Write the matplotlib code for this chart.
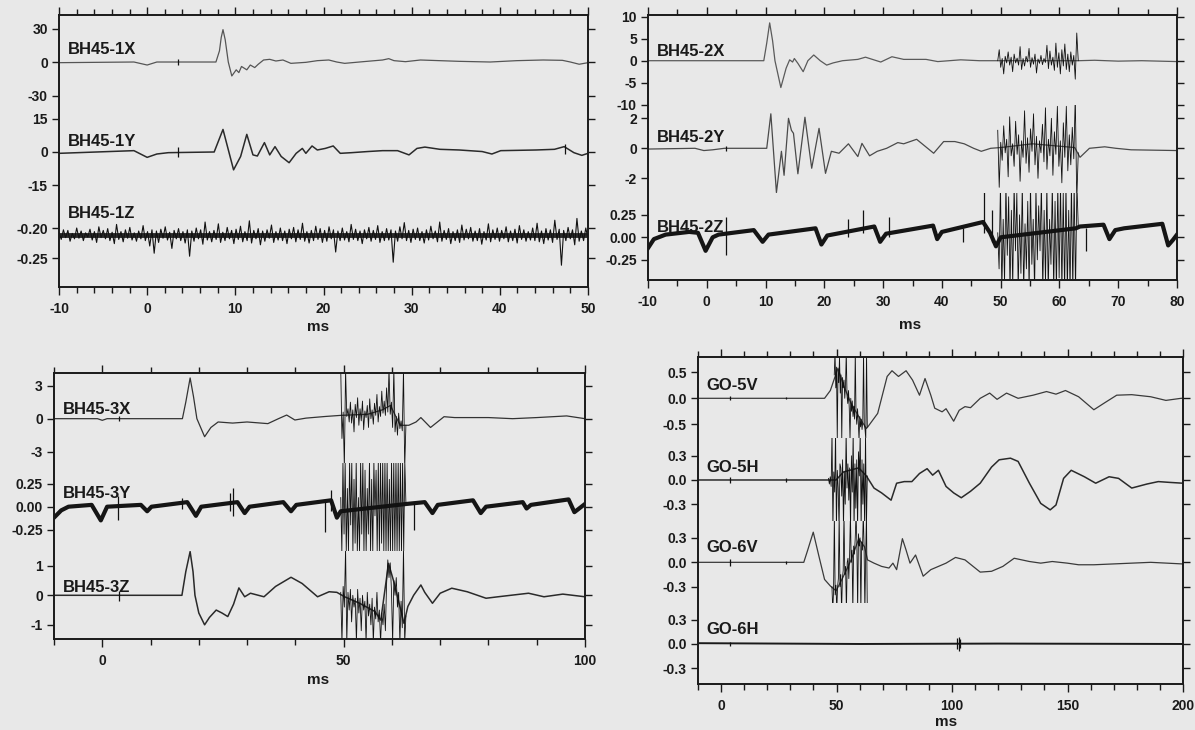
import numpy as np
import matplotlib.pyplot as plt

plt.rcParams['font.family'] = ['Liberation Sans', 'DejaVu Sans']
plt.rcParams['font.weight'] = 'bold'
plt.rcParams['axes.unicode_minus'] = False

W, H = 1195, 730
BG = '#e8e8e8'
INK = '#1a1a1a'

# ---------------- BH45-1 (x, y, z) ----------------
t_1x = [-10, -1.5, 0.0, 1.1, 7.8, 8.2, 8.4, 8.6, 8.85, 9.2, 9.6, 10.1, 10.4, 10.7, 11.3, 11.7, 12.2, 12.6,
        13.2, 13.9, 14.6, 15.4, 16.3, 18.0, 19.3, 20.6, 21.5, 22.4, 24.5, 26.7, 27.4, 28.0, 29.3, 31.0,
        35.4, 38.9, 41.9, 44.9, 47.1, 48.0, 49.0, 50.0]
v_1x = [-0.6, 0, -2.7, 0, 0, 10, 22, 29, 20, 0, -12.5, -7, -9.5, -4, -7, -2.7, -5, -2,
        1.8, 2.4, 0.9, 1.8, -1.2, -0.3, 1.2, 1.8, 0, -1.2, 0.3, 1.8, 3, 1.2, 0.3, 1.8,
        0.6, 0, 1.2, 1.8, 1.5, 0, -2, -0.6]
spikes_1x = [(3.5, -2.5, 2.5)]

t_1y = [-10, -1.5, 0.0, 1.1, 2.4, 7.6, 8.6, 9.8, 10.6, 11.3, 12.0, 12.5, 13.3, 13.9, 14.5, 15.2, 16.1, 16.9,
        17.6, 18.0, 18.7, 19.3, 20.2, 21.1, 21.9, 23.2, 25.0, 26.7, 28.4, 29.7, 30.6, 31.5, 33.2, 35.4,
        38.0, 39.1, 40.1, 44.1, 46.2, 47.3, 48.4, 49.3, 50.0]
v_1y = [-0.6, 0.6, -2.4, -0.9, -0.3, 0, 10.1, -8, -2, 7.9, -1.3, -1.8, 4.2, -1.3, 2.4, -2, -4.8, -0.6,
        1.6, -0.6, 2.7, 0.9, 1.6, 2.7, -0.6, -0.3, 0.2, 0.6, 0.6, -1.3, 1.6, 2.2, 1.2, 0.9,
        0.2, -0.9, 0.6, 0.9, 1.2, 2.4, -0.3, -1.5, -0.6]
spikes_1y = [(3.5, -2.2, 2.2), (47.4, -1.0, 3.5)]

# 1Z is pure noise around a constant level (offsets in units of 1e-3)
level_1z = -0.212
noise_1z = [5, -7, 9, -4, 8, -10, 3, -6, 12, -5, 7, -9, 4, -3, 10, -8, 6, -12, 14, -4,
            8, -6, 11, -9, 5, -14, 18, -7, 6, -11, 9, -5, 13, -8, 4, -10, 7, -6, 16, -9,
            6, -18, 9, -30, 7, -12, 10, -5, 14, -8, 5, -22, 8, -6, 11, -9, 6, -13, 9, -35,
            7, -10, 12, -6, 9, -15, 22, -8, 6, -11, 8, -7, 19, -12, 5, -9, 13, -6, 8, -14,
            10, -7, 15, -11, 6, -9, 24, -13, 8, -6, 11, -16, 7, -10, 9, -5, 17, -12, 6, -8,
            12, -9, 7, -14, 10, -6, 13, -11, 9, -7, 20, -10, 6, -13, 8, -9, 15, -7, 11, -12,
            8, -10, 14, -6, 9, -28, 7, -9, 12, -8, 6, -11, 18, -7, 10, -9, 7, -14, 9, -6,
            13, -10, 8, -7, 16, -12, 6, -9, 11, -8, 9, -45, 7, -10, 14, -6, 21, -9, 8, -12,
            10, -7, 12, -9, 6, -13, 9, -8, 15, -6, 7, -11, 22, -10, 8, -7, 11, -14, 6, -9,
            9, -12, 17, -8, 10, -6, 13, -10, 7, -9, 11, -15, 6, -8, 19, -11, 9, -7, 12, -10,
            8, -6, 14, -11, 7, -9, 10, -13, 16, -7, 9, -10, 6, -8, 12, -9, 20, -11, 7, -14,
            11, -8, 9, -12, 25, -7, 10, -50, 8, -9, 13, -6, 9, -16, 28, -10, 7, -9, 12, -6]

# ---------------- BH45-2 ----------------
t_2x = [-10, 9.7, 10.2, 10.7, 11.2, 11.6, 12.6, 13.5, 14.1, 14.6, 14.9, 15.5, 16.4, 17.2, 18.2, 19.3, 20.4,
        21.5, 23.1, 25.7, 27.0, 29.6, 31.5, 33.5, 37.3, 39.3, 43.2, 46.4, 49.5, 63.2, 66, 70, 74, 80]
v_2x = [0, 0, 4, 8.6, 4.5, 0, -6.1, -1.7, 0.2, -0.3, 0.5, -0.6, -2.5, 0, 1.3, 0, -1.0,
        -0.5, 0, 0.3, 0.8, -0.3, 0.9, 0.3, 0.3, -0.2, 0.2, 0, 0, 0, 0.1, -0.1, 0, -0.2]
burst_2x_span = (49.5, 63.2)
burst_2x = [0, 2.5, -1.5, 0.5, -3, 1, -0.5, 2, -1, 0.8, -2.5, 1.5, -0.5, 0.6, -1, 3.2, -2, 0.5, -1.2, 1,
            -0.3, 2.8, -1.5, 0.7, -0.8, 1.5, -2.8, 0.4, -0.6, 1.2, -0.9, 0.5, -0.4, 3.5, -1.8, 2.2, -1, 0.8, -2.2, 4,
            -1.5, 1.8, -3, 2.5, -1.2, 3.8, -2, 1.5, -2.5, 2, -1, 1.2, -4.2, 6.3, 0]

t_2y = [-10, -2, -0.5, 1, 3, 10.2, 10.9, 11.85, 12.7, 13.15, 13.9, 14.4, 14.75, 15.5, 16.7, 17.85, 19.1,
        20.2, 21.2, 22.5, 24.1, 25.7, 26.4, 27.7, 29.0, 30.6, 32.5, 33.5, 35.7, 38.6, 40.3, 42.2, 43.8,
        45.4, 46.7, 48.3, 50, 55.4, 62.6, 63.5, 65.1, 67.7, 69.6, 72.2, 80]
v_2y = [-0.05, 0, -0.15, -0.1, 0, 0, 2.3, -2.95, -0.2, -1.8, 2.0, 1.2, 1.0, -1.7, 2.07, -1.33, 1.33,
        -1.67, -0.2, -0.33, 0.3, -0.55, 0.33, -0.5, -0.2, 0, 0.38, 0.3, 0.6, -0.33, 0.45, 0.45, 0.3,
        0, -0.2, 0, 0.05, 0.3, 0.05, -0.6, 0, 0.1, 0, -0.1, -0.15]
spikes_2y = [(3.3, -0.2, 0.15)]
burst_2y_span = (49.5, 63.2)
burst_2y = [1.2, -2.6, 0.4, -0.8, 1.5, -0.3, 0.6, -1.9, 2.1, -0.5, 0.3, -1.2, 1.8, -0.4, 0.9, -2.2, 0.5, -0.6, 2.5, -1.0,
            0.7, -1.6, 1.3, -0.2, 2.3, -1.1, 0.8, -2.0, 0.5, -0.3, 1.6, -0.9, 2.7, -1.4, 0.6, -0.5, 2.0, -1.8, 1.1, -0.4,
            2.8, -1.2, 0.5, -2.3, 1.7, -0.6, 2.8, -1.5, 0.9, -1.1, 1.4, -0.7, 3.5, -3.5, -0.3]

t_2z = [-10, -9, -7, -3, -1.5, -0.2, 1.0, 2, 8, 9.5, 10.5, 18.5, 19.5, 20.5, 28.5, 29.5, 30.5, 38.5, 39.2,
        40, 47, 48.2, 49.2, 50, 62.8, 63.5, 67.5, 68.5, 69.5, 71, 77.5, 78.5, 79.3, 80]
v_2z = [-0.12, -0.02, 0.03, 0.06, 0.05, -0.15, 0.0, 0.03, 0.08, -0.05, 0.03, 0.1, -0.08, 0.02, 0.12, -0.05,
        0.04, 0.13, -0.02, 0.06, 0.17, 0.05, -0.1, 0, 0.1, 0.12, 0.14, -0.02, 0.08, 0.1, 0.15, -0.09, -0.03, 0.03]
spikes_2z = [(3.3, -0.2, 0.22), (24.0, 0.0, 0.2), (26.5, 0.05, 0.3), (31.0, 0.0, 0.22),
             (43.6, -0.05, 0.1), (47.1, 0.05, 0.5), (48.5, -0.05, 0.3), (64.5, -0.15, 0.1)]
burst_2z_span = (49.5, 63.2)
burst_2z = [0.05, -0.35, 0.6, -0.6, 0.2, -0.5, 0.6, -0.2, 0.45, -0.6, 0.3, -0.55, 0.6, -0.15, 0.5, -0.6, 0.25, -0.4, 0.6, -0.6,
            0.15, -0.35, 0.4, -0.6, 0.6, -0.3, 0.2, -0.6, 0.55, -0.25, 0.35, -0.15, 0.6, -0.6, 0.3, -0.5, 0.6, -0.6, 0.2, -0.3,
            0.6, -0.6, 0.4, -0.6, 0.6, -0.45, 0.6, -0.6, 0.5, -0.6, 0.6, -0.6, 0.3, -0.6, 0.6, -0.6, 0.6, -0.6, 0.6, 0.12]

# ---------------- BH45-3 ----------------
t_3x = [-10, -1, 0, 1, 16.6, 17.3, 18.2, 18.9, 19.6, 21.2, 22.5, 24, 27, 30, 34.3, 36.5, 38.2, 39.9, 42.2,
        46.2, 49.4, 55, 58, 59.7, 61.7, 63.5, 65, 66, 68, 70, 70.8, 73, 80, 85, 90, 96.2, 100]
v_3x = [0, 0, -0.15, 0, 0, 1.5, 3.7, 2.0, 0, -1.64, -0.8, -0.3, -0.4, -0.3, -0.45, 0.0, 0.33, -0.12, 0.05,
        0.2, 0.3, 0.4, 0.8, 1.2, -0.6, -0.6, -0.3, 0.1, -0.8, -0.1, 0.18, 0.1, 0.1, 0.0, 0.1, 0.25, 0.0]
spikes_3x = [(3.5, -0.2, 0.2)]
burst_3x_span = (49.4, 62.9)
burst_3x = [4.5, -1.8, 0.6, -4.5, 4.5, 0.2, 0.9, -0.3, 1.5, -0.4, 0.8, -1.2, 1.3, 0.1, 1.9, -0.6, 0.9, -0.2, 1.6, -1.0,
            0.7, 0.1, 1.2, -0.8, 1.8, 0.0, 0.8, -0.5, 1.4, 0.3, 2.2, -0.3, 1.1, 0.2, 2.5, 0.5, 1.6, 0.3, 2.8, 0.6,
            4.5, 0.4, 1.5, -0.8, 4.5, -1.2, 0.2, -1.5, 0.5, -0.9, -0.2, -1.1, 4.5, -4.5, -0.6]

t_3y = [-10, -8.5, -7, -2.2, -0.3, 1, 8, 9.3, 10.2, 17.6, 19.4, 20.5, 28, 29.5, 30.5, 37.5, 39.1, 40.2,
        47.4, 48.6, 49.4, 63, 66.8, 68.4, 69.5, 76.8, 78.4, 79.5, 87.1, 87.9, 88.8, 96.6, 97.8, 100]
v_3y = [-0.12, -0.04, 0.0, 0.02, -0.15, 0.0, 0.02, -0.05, 0.0, 0.05, -0.1, 0.0, 0.05, -0.07, 0.0, 0.05,
        -0.05, 0.02, 0.07, -0.12, -0.05, 0.03, 0.05, -0.07, 0.02, 0.07, -0.07, 0.0, 0.05, -0.02, 0.02,
        0.08, -0.06, 0.03]
spikes_3y = [(3.2, -0.15, 0.12), (16.5, -0.02, 0.1), (26.4, -0.05, 0.15), (27.1, -0.1, 0.2),
             (46.2, -0.28, 0.05), (47.4, -0.05, 0.18), (64.5, -0.25, 0.05)]
burst_3y_span = (49.4, 62.9)
burst_3y = [0.1, -0.5, 0.5, -0.3, 0.5, -0.5, 0.2, -0.5, 0.5, -0.2, 0.5, -0.5, 0.3, -0.4, 0.5, -0.5, 0.1, -0.5, 0.5, -0.3,
            0.5, -0.5, 0.4, -0.5, 0.2, -0.3, 0.5, -0.5, 0.3, -0.5, 0.5, -0.1, 0.4, -0.5, 0.5, -0.5, 0.5, -0.4, 0.5, -0.5,
            0.5, -0.5, 0.5, -0.5, 0.3, -0.5, 0.5, -0.5, 0.5, -0.5, 0.5, -0.5, 0.5, -0.5, 0.5, -0.5, 0.5, -0.5, 0.5, 0.04]

t_3z = [-10, 3, 16.5, 17.3, 18.2, 18.8, 19.2, 20, 21.2, 22.2, 23.6, 24.8, 26, 27.2, 28.3, 29.5, 30.7, 33.5,
        35.9, 39.1, 41.4, 44.6, 47, 48.6, 50.2, 53.3, 56.5, 57.7, 59.3, 60.5, 62.5, 63.3, 64.5, 66, 66.8,
        68.4, 70, 72.4, 75.6, 79.5, 82, 88.3, 91.5, 95.4, 100]
v_3z = [0, 0, 0, 0.8, 1.48, 0.8, 0, -0.6, -1.0, -0.75, -0.5, -0.6, -0.72, -0.3, 0.25, -0.05, 0.07, -0.05,
        0.3, 0.61, 0.4, -0.05, 0.12, 0.1, -0.05, -0.27, -0.55, -0.84, 1.08, 0.4, -0.95, -0.38, 0.0, 0.35, 0.1,
        -0.27, 0.07, 0.24, 0.12, -0.1, -0.05, 0.07, -0.05, 0.04, -0.05]
spikes_3z = [(3.5, -0.2, 0.15)]
burst_3z_span = (49.4, 62.9)
burst_3z = [0.1, -1.6, 0.3, -0.4, 1.6, -1.6, 0.1, -0.5, 0.2, -0.9, 0.0, -0.4, -0.1, -1.6, 0.2, -0.6, -0.1, -1.2, 0.0, -0.5,
            -0.2, -1.6, 0.1, -0.7, -0.3, -1.0, -0.1, -1.6, -0.4, -0.8, 0.1, -0.9, -0.5, -1.6, -0.6, -1.0, -0.3, -1.2, 0.4, 1.2,
            0.6, 1.1, 0.2, -1.6, 0.5, 0.0, 0.6, -0.4, 0.1, -1.6, -0.2, -1.1, 1.6, -1.6, -0.7]

# ---------------- GO-5 / GO-6 ----------------
t_5v = [-10, 28, 44.8, 47.3, 50.6, 53, 56.3, 59.6, 62.9, 63.5, 67.8, 71.9, 74, 76.8, 80.1, 82.9, 85.9, 88.3,
        90.8, 92.5, 95.7, 97.4, 100.7, 103.1, 105.6, 108, 112.2, 116.3, 119.5, 123.6, 128.6, 135.1, 140.9,
        145, 149.1, 154.8, 161.4, 166.3, 171.3, 177.8, 186, 192.6, 199.2, 200]
v_5v = [0, 0, 0.0, 0.15, 0.58, 0.25, -0.1, -0.35, -0.58, -0.55, -0.29, 0.42, 0.53, 0.42, 0.53, 0.35, 0.06, 0.38,
        0.06, -0.19, -0.26, -0.2, -0.44, -0.23, -0.16, -0.18, 0.0, 0.1, -0.02, 0.1, 0.0, 0.06, 0.13,
        0.08, 0.15, 0.03, -0.22, -0.08, 0.06, 0.07, 0.03, -0.04, 0.0, 0.0]
burst_5v_span = (49.0, 63.3)
burst_5v = [0.45, 0.9, 0.2, 0.6, -0.8, 0.55, 0.3, 0.8, 0.1, 0.45, -0.8, 0.4, 0.2, 0.35, 0.0, 0.25, 0.9, 0.05, -0.1, 0.15,
            -0.2, -0.8, 0.0, -0.25, -0.05, -0.35, -0.15, -0.4, 0.9, -0.3, -0.5, -0.2, -0.45, -0.8, -0.35, -0.55, -0.4, -0.6,
            -0.45, 0.9, -0.5, -0.6, -0.8, 0.9, -0.55]

t_5h = [-10, 28, 46.5, 49.8, 53, 59.6, 62.9, 66.2, 69.5, 73.6, 76, 79.3, 82.6, 85.9, 89.2, 91.6, 94.1, 97.4,
        100.7, 104, 108, 112.2, 117.1, 120.4, 125.3, 128.6, 133.5, 138.4, 142.5, 145, 148.3, 151.6, 157.3,
        162.2, 168, 172.1, 177.8, 184.4, 189.3, 194.3, 200]
v_5h = [0, 0, 0, 0.0, 0.1, 0.15, 0.05, -0.1, -0.16, -0.25, -0.04, -0.02, -0.02, 0.08, 0.14, 0.06, 0.12, -0.08,
        -0.16, -0.22, -0.14, -0.04, 0.16, 0.25, 0.27, 0.23, -0.04, -0.29, -0.37, -0.31, 0.02, 0.12, 0.04,
        -0.04, 0.04, 0.02, -0.1, -0.05, -0.02, -0.03, -0.04]
burst_5h_span = (46.5, 63.3)
burst_5h = [0.02, -0.05, 0.04, -0.08, 0.6, -0.6, 0.1, -0.15, 0.6, -0.6, 0.12, -0.1, -0.6, 0.2, 0.15, -0.2, 0.25, -0.6,
            0.1, -0.3, 0.6, -0.1, 0.2, -0.25, 0.15, -0.6, 0.3, -0.15, 0.6, -0.6, 0.2, -0.35, 0.25, -0.6, 0.35, 0.05,
            0.6, -0.6, 0.25, -0.3, 0.2, -0.6, 0.6, -0.6, 0.05]

t_6v = [-10, 30, 35.8, 37.5, 39.9, 42.4, 44.8, 47.3, 49.8, 53, 56.3, 59.6, 62.1, 63.4, 66.2, 69.5, 72.7, 74.4,
        76, 78.5, 80.1, 81.8, 84.2, 87.5, 90.8, 94.1, 97.4, 101.5, 105.6, 112.2, 117.1, 122, 126.9, 133.5,
        138.4, 143.4, 149.9, 154.8, 161.4, 177.8, 186, 200]
v_6v = [0, 0, 0, 0.15, 0.37, 0.07, -0.21, -0.29, -0.35, -0.17, 0.03, 0.29, 0.19, 0.03, -0.01, -0.05, -0.07,
        -0.01, -0.09, 0.29, 0.15, -0.01, 0.09, -0.17, -0.09, -0.05, -0.01, 0.06, 0.03, -0.12, -0.11, -0.05,
        0.05, 0.01, -0.01, 0.01, -0.01, -0.03, -0.03, -0.01, 0.0, -0.02]
burst_6v_span = (48.0, 63.3)
burst_6v = [-0.3, -0.6, -0.35, 0.6, -0.4, -0.28, -0.6, -0.3, -0.2, 0.6, -0.3, -0.15, -0.6, -0.2, -0.1, 0.6, -0.15,
            -0.05, -0.6, 0.0, 0.05, -0.2, 0.1, 0.6, 0.0, 0.15, -0.6, 0.2, 0.1, 0.3, 0.6, 0.25, -0.6, 0.35, 0.2, 0.3,
            -0.6, 0.25, 0.15, 0.6, 0.2, -0.6, 0.1, 0.6, -0.6]

t_6h = [-10, 60, 120, 200]
v_6h = [0.01, 0.0, 0.005, 0.0]
spikes_6h = [(3.8, -0.03, 0.03), (102.3, -0.06, 0.07), (103.0, -0.09, 0.09), (103.6, -0.05, 0.06)]
spikes_go = [(3.8, -0.04, 0.04), (28.0, -0.02, 0.02)]


def add_box(fig, left, top, right, bottom):
    return fig.add_axes([left / W, 1 - bottom / H, (right - left) / W, (bottom - top) / H])


def band(fig, box, xlim, top, bottom, ylim, yticks, ylabels):
    left, right = box[0], box[2]
    ax = add_box(fig, left, top, right, bottom)
    ax.set_xlim(xlim)
    ax.set_ylim(ylim)
    ax.patch.set_alpha(0)
    for s in ax.spines.values():
        s.set_visible(False)
    ax.set_xticks([])
    ax.set_yticks(yticks)
    ax.set_yticklabels(ylabels)
    ax.tick_params(axis='y', direction='out', left=True, right=True, length=5, width=1.0,
                   labelsize=10, pad=3, colors=INK)
    return ax


def frame(fig, box, xlim, major, minor):
    ax = add_box(fig, *box)
    ax.set_xlim(xlim)
    ax.set_ylim(0, 1)
    ax.set_yticks([])
    ax.set_xticks(major)
    ax.set_xticks(minor, minor=True)
    ax.tick_params(axis='x', which='both', direction='out', top=True, bottom=True,
                   width=1.0, labelsize=10, colors=INK)
    ax.tick_params(axis='x', which='major', length=6, pad=5)
    ax.tick_params(axis='x', which='minor', length=4)
    for s in ax.spines.values():
        s.set_linewidth(1.4)
        s.set_color(INK)
    ax.patch.set_alpha(0)
    return ax


def trace(ax, t, v, color='#2b2b2b', lw=0.9):
    ax.plot(t, v, color=color, lw=lw, solid_joinstyle='round')


def burst(ax, span, vals, lw=0.6):
    ax.plot(np.linspace(span[0], span[1], len(vals)), vals, color='#111111', lw=lw)


def spikes(ax, items, lw=0.9):
    ts, lo, hi = zip(*items)
    ax.vlines(ts, lo, hi, color='#111111', lw=lw)


fig = plt.figure(figsize=(W / 100, H / 100), dpi=100, facecolor=BG)

# ---- panel 1 ----
box1 = (59, 15, 588, 287)
xl1 = (-10, 50)
a = band(fig, box1, xl1, 15, 106, (-39.4, 42.1), [-30, 0, 30], ['-30', '0', '30'])
trace(a, t_1x, v_1x, color='#555555')
spikes(a, spikes_1x)
a = band(fig, box1, xl1, 106, 200, (-21.5, 20.6), [-15, 0, 15], ['-15', '0', '15'])
trace(a, t_1y, v_1y, color='#2a2a2a', lw=1.1)
spikes(a, spikes_1y)
a = band(fig, box1, xl1, 200, 287, (-0.2983, -0.1533), [-0.25, -0.20], ['-0.25', '-0.20'])
a.axhline(level_1z, color='#2a2a2a', lw=3.5)
a.plot(np.linspace(-10, 50, len(noise_1z)), level_1z + np.array(noise_1z) / 1000.0,
       color='#111111', lw=0.8)
frame(fig, box1, xl1, np.arange(-10, 51, 10), np.arange(-10, 51, 2))

# ---- panel 2 ----
box2 = (648, 15, 1177, 280)
xl2 = (-10, 80)
a = band(fig, box2, xl2, 15, 105, (-10.07, 10.39), [-10, -5, 0, 5, 10], ['-10', '-5', '0', '5', '10'])
trace(a, t_2x, v_2x, color='#5a5a5a')
burst(a, burst_2x_span, burst_2x)
a = band(fig, box2, xl2, 105, 193, (-2.98, 2.887), [-2, 0, 2], ['-2', '0', '2'])
trace(a, t_2y, v_2y, color='#4a4a4a')
spikes(a, spikes_2y)
burst(a, burst_2y_span, burst_2y)
a = band(fig, box2, xl2, 193, 280, (-0.474, 0.492), [-0.25, 0, 0.25], ['-0.25', '0.00', '0.25'])
trace(a, t_2z, v_2z, color='#151515', lw=3.0)
spikes(a, spikes_2z)
burst(a, burst_2z_span, burst_2z)
frame(fig, box2, xl2, np.arange(-10, 81, 10), np.arange(-10, 81, 5))

# ---- panel 3 ----
box3 = (54, 373, 585, 639)
xl3 = (-10, 100)
a = band(fig, box3, xl3, 373, 462.7, (-4.0, 4.15), [-3, 0, 3], ['-3', '0', '3'])
trace(a, t_3x, v_3x, color='#333333')
spikes(a, spikes_3x)
burst(a, burst_3x_span, burst_3x)
a = band(fig, box3, xl3, 462.7, 550.7, (-0.482, 0.482), [-0.25, 0, 0.25], ['-0.25', '0.00', '0.25'])
trace(a, t_3y, v_3y, color='#151515', lw=3.0)
spikes(a, spikes_3y)
burst(a, burst_3y_span, burst_3y)
a = band(fig, box3, xl3, 550.7, 639, (-1.48, 1.51), [-1, 0, 1], ['-1', '0', '1'])
trace(a, t_3z, v_3z, color='#2a2a2a', lw=1.1)
spikes(a, spikes_3z)
burst(a, burst_3z_span, burst_3z)
frame(fig, box3, xl3, [0, 50, 100], np.arange(-10, 101, 10))

# ---- panel 4 ----
box4 = (698, 357, 1183, 684)
xl4 = (-10, 200)
a = band(fig, box4, xl4, 357, 438, (-0.763, 0.794), [-0.5, 0, 0.5], ['-0.5', '0.0', '0.5'])
trace(a, t_5v, v_5v, color='#3a3a3a')
spikes(a, spikes_go)
burst(a, burst_5v_span, burst_5v)
a = band(fig, box4, xl4, 438, 521, (-0.508, 0.52), [-0.3, 0, 0.3], ['-0.3', '0.0', '0.3'])
trace(a, t_5h, v_5h, color='#2a2a2a', lw=1.1)
spikes(a, spikes_go)
burst(a, burst_5h_span, burst_5h)
a = band(fig, box4, xl4, 521, 603, (-0.499, 0.507), [-0.3, 0, 0.3], ['-0.3', '0.0', '0.3'])
trace(a, t_6v, v_6v, color='#3a3a3a')
spikes(a, spikes_go)
burst(a, burst_6v_span, burst_6v)
a = band(fig, box4, xl4, 603, 684, (-0.497, 0.509), [-0.3, 0, 0.3], ['-0.3', '0.0', '0.3'])
trace(a, t_6h, v_6h, color='#1a1a1a', lw=1.4)
spikes(a, spikes_6h)
frame(fig, box4, xl4, [0, 50, 100, 150, 200], np.arange(-10, 201, 10))

# trace names, drawn under the traces
names = [('BH45-1X', 68, 50), ('BH45-1Y', 68, 141), ('BH45-1Z', 68, 213),
         ('BH45-2X', 657, 51), ('BH45-2Y', 657, 138), ('BH45-2Z', 657, 227),
         ('BH45-3X', 63, 410), ('BH45-3Y', 63, 493), ('BH45-3Z', 63, 587),
         ('GO-5V', 706, 385), ('GO-5H', 706, 467), ('GO-6V', 706, 548), ('GO-6H', 706, 630)]
for s, x, y in names:
    fig.text(x / W, 1 - y / H, s, ha='left', va='center', fontsize=12, fontweight='bold',
             color=INK, zorder=-1)

for x, y in [(318, 327), (910, 325), (318, 680), (946, 722)]:
    fig.text(x / W, 1 - y / H, 'ms', ha='center', va='center', fontsize=11, color=INK)

fig.savefig('out.png', dpi=100, facecolor=BG)
